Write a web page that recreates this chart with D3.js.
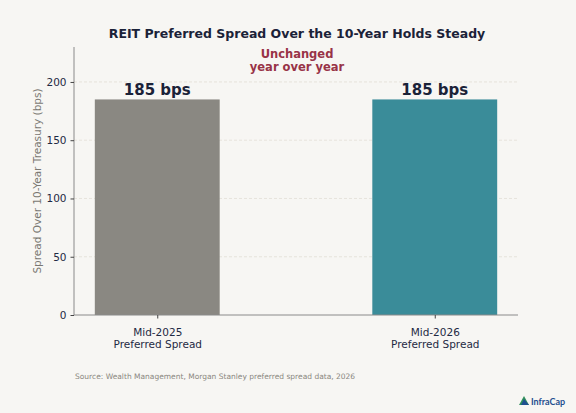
<!DOCTYPE html>
<html>
<head>
<meta charset="utf-8">
<title>REIT Preferred Spread</title>
<script src="https://cdn.jsdelivr.net/npm/d3@7"></script>
<style>
  body { margin: 0; background: #f7f6f3; }
  svg { display: block; font-family: "DejaVu Sans", sans-serif; }
</style>
</head>
<body>
<svg id="chart" width="576" height="413"></svg>
<script>
// data
const categories = ["Mid-2025\nPreferred Spread", "Mid-2026\nPreferred Spread"];
const spreads = [185, 185];
const barLabels = ["185 bps", "185 bps"];
const barColors = ["#8a8882", "#3a8c99"];
const yTicks = [0, 50, 100, 150, 200];

const svg = d3.select("#chart");
const margin = { left: 74, right: 58, top: 47, bottom: 98 };
const W = 576, H = 413;
const innerW = W - margin.left - margin.right;
const innerH = H - margin.top - margin.bottom;

svg.append("rect").attr("width", W).attr("height", H).attr("fill", "#f7f6f3");

// x as linear over category index, like a matplotlib bar chart
const x = d3.scaleLinear().domain([-0.3, 1.3]).range([0, innerW]);
const y = d3.scaleLinear().domain([0, 230]).range([innerH, 0]);
const barW = 0.45;

const g = svg.append("g").attr("transform", `translate(${margin.left},${margin.top})`);

// grid
g.selectAll(".grid").data(yTicks.filter(d => d > 0)).join("line")
  .attr("x1", 0).attr("x2", innerW)
  .attr("y1", d => y(d)).attr("y2", d => y(d))
  .attr("stroke", "#e2ded5").attr("stroke-width", 0.8)
  .attr("stroke-dasharray", "3,2");

// bars
g.selectAll(".bar").data(spreads).join("rect")
  .attr("x", (d, i) => x(i - barW / 2))
  .attr("width", (d, i) => x(i + barW / 2) - x(i - barW / 2))
  .attr("y", d => y(d))
  .attr("height", d => innerH - y(d))
  .attr("fill", (d, i) => barColors[i]);

// value labels
g.selectAll(".val").data(spreads).join("text")
  .attr("x", (d, i) => x(i))
  .attr("y", d => y(d) - 4)
  .attr("text-anchor", "middle")
  .attr("font-size", 15).attr("font-weight", "bold")
  .attr("fill", "#1b2238")
  .text((d, i) => barLabels[i]);

// y axis
const yAxis = g.append("g").call(d3.axisLeft(y).tickValues(yTicks).tickSize(3.5).tickPadding(4));
yAxis.select(".domain").attr("stroke", "#8a8a8a").attr("d", `M0,${innerH}V0`);
yAxis.selectAll(".tick line").attr("stroke", "#444");
yAxis.selectAll(".tick text").attr("font-size", 10.5).attr("fill", "#1f2a44")
  .attr("font-family", "DejaVu Sans");

// x axis
const xAxis = g.append("g").attr("transform", `translate(0,${innerH})`)
  .call(d3.axisBottom(x).tickValues([0, 1]).tickSize(3.5).tickFormat(""));
xAxis.select(".domain").attr("stroke", "#8a8a8a").attr("d", `M0,0H${innerW}`);
xAxis.selectAll(".tick line").attr("stroke", "#444");
xAxis.selectAll(".tick").each(function (d) {
  const t = d3.select(this).append("text")
    .attr("fill", "#1f2a44").attr("font-size", 10.5)
    .attr("font-family", "DejaVu Sans")
    .attr("text-anchor", "middle");
  categories[d].split("\n").forEach((line, k) => {
    t.append("tspan").attr("x", 0).attr("y", 21 + k * 12).text(line);
  });
});

// y label
svg.append("text")
  .attr("transform", `translate(41,${margin.top + innerH / 2}) rotate(-90)`)
  .attr("text-anchor", "middle")
  .attr("font-size", 10.5).attr("fill", "#7a7872")
  .text("Spread Over 10-Year Treasury (bps)");

// title
svg.append("text")
  .attr("x", 297).attr("y", 38)
  .attr("text-anchor", "middle")
  .attr("font-size", 12.5).attr("font-weight", "bold")
  .attr("fill", "#1b2238")
  .text("REIT Preferred Spread Over the 10-Year Holds Steady");

// annotation
const note = svg.append("text")
  .attr("text-anchor", "middle")
  .attr("font-size", 11.5).attr("font-weight", "bold")
  .attr("fill", "#983347");
["Unchanged", "year over year"].forEach((line, k) => {
  note.append("tspan").attr("x", 297).attr("y", 58 + k * 13).text(line);
});

// source
svg.append("text")
  .attr("x", 75).attr("y", 379)
  .attr("font-size", 7.5).attr("fill", "#8a8780")
  .text("Source: Wealth Management, Morgan Stanley preferred spread data, 2026");

// logo
const logo = svg.append("g").attr("transform", "translate(519,396)");
logo.append("path").attr("d", "M5,0 L10,9 L0,9 Z").attr("fill", "#2f8f5b");
logo.append("path").attr("d", "M5,3 L10,9 L2,9 Z").attr("fill", "#1f4f8f");
logo.append("text").attr("x", 12).attr("y", 8.5)
  .attr("font-size", 9).attr("font-weight", "bold")
  .attr("font-family", "Lato, sans-serif")
  .attr("fill", "#1f4f8f")
  .text("InfraCap");
</script>
</body>
</html>
